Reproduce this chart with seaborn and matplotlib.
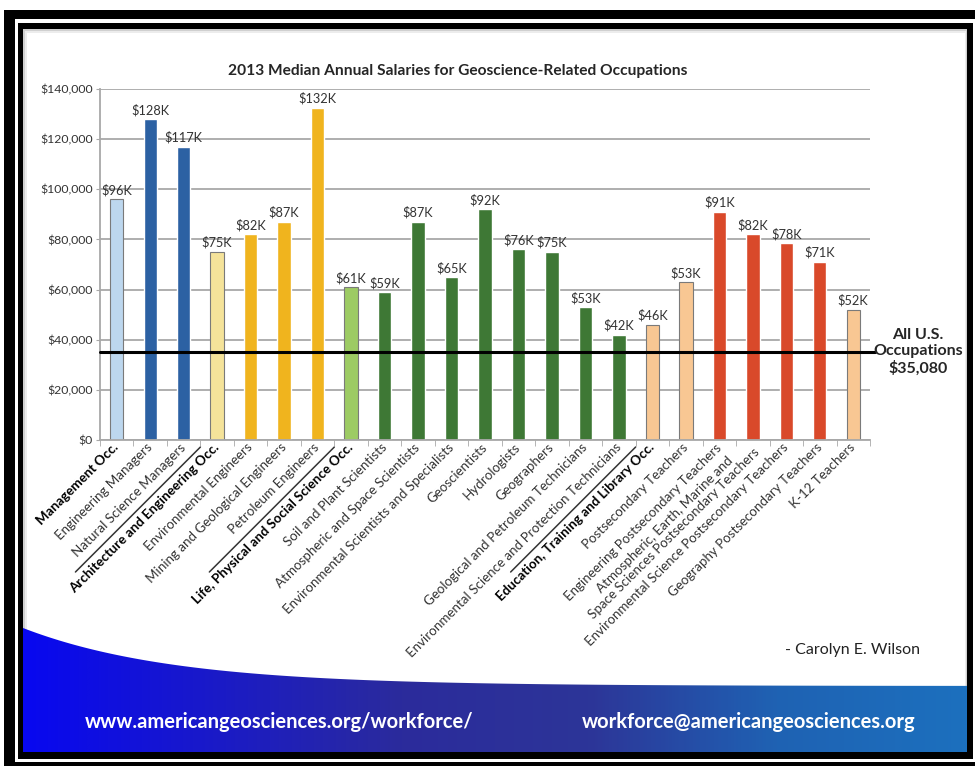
import numpy as np
import pandas as pd
import matplotlib.pyplot as plt
import matplotlib.patches as mpatches
import matplotlib.transforms as mtransforms
from matplotlib.path import Path
from matplotlib.colors import LinearSegmentedColormap
from matplotlib.ticker import MultipleLocator, FuncFormatter
import seaborn as sns

# ---- data (salaries in thousands of dollars) ----
occupations = [
    "Management Occ.",
    "Engineering Managers",
    "Natural Science Managers",
    "Architecture and Engineering Occ.",
    "Environmental Engineers",
    "Mining and Geological Engineers",
    "Petroleum Engineers",
    "Life, Physical and Social Science Occ.",
    "Soil and Plant Scientists",
    "Atmospheric and Space Scientists",
    "Environmental Scientists and Specialists",
    "Geoscientists",
    "Hydrologists",
    "Geographers",
    "Geological and Petroleum Technicians",
    "Environmental Science and Protection Technicians",
    "Education, Training and Library Occ.",
    "Postsecondary Teachers",
    "Engineering Postsecondary Teachers",
    "Atmospheric, Earth, Marine and\nSpace Sciences Postsecondary Teachers",
    "Environmental Science Postsecondary Teachers",
    "Geography Postsecondary Teachers",
    "K-12 Teachers",
]
salary_k = [96, 128, 117, 75, 82, 87, 132.5, 61, 59, 87, 65, 92, 76, 75,
            53, 42, 46, 63, 91, 82, 78.5, 71, 52]
value_labels = ["$96K", "$128K", "$117K", "$75K", "$82K", "$87K", "$132K",
                "$61K", "$59K", "$87K", "$65K", "$92K", "$76K", "$75K",
                "$53K", "$42K", "$46K", "$53K", "$91K", "$82K", "$78K",
                "$71K", "$52K"]
bar_colors = ["#BDD7EE", "#2C61A3", "#2C61A3",
              "#F5E39A", "#F0B41E", "#F0B41E", "#F0B41E",
              "#9DCB64", "#3E7835", "#3E7835", "#3E7835", "#3E7835",
              "#3E7835", "#3E7835", "#3E7835", "#3E7835",
              "#F8C793", "#F8C793", "#D9492A", "#D9492A", "#D9492A",
              "#D9492A", "#F8C793"]
group_headers = [0, 3, 7, 16]
outlined = [0, 3, 7, 16, 17, 22]
all_us_median = 35080
all_us_label = "All U.S.\nOccupations\n$35,080"

df = pd.DataFrame({"occupation": occupations,
                   "salary": np.array(salary_k) * 1000})

sns.set_style("white")
plt.rcParams['font.family'] = ['Lato', 'DejaVu Sans']

W, H = 975, 767
fig = plt.figure(figsize=(W / 100, H / 100), dpi=100)

# ---- background / frame (pixel coordinates, origin top-left) ----
bg = fig.add_axes([0, 0, 1, 1], zorder=0)
bg.set_xlim(0, W)
bg.set_ylim(H, 0)
bg.axis('off')

def rect(x0, y0, x1, y1, color, **kw):
    bg.add_patch(mpatches.Rectangle((x0, y0), x1 - x0, y1 - y0,
                                    facecolor=color, edgecolor='none', **kw))

rect(4, 10, 990, 766, 'black')
rect(15, 19, 980, 762, 'white')
rect(18, 23, 973, 759, 'black')
rect(23, 29, 967, 752, '#d0d0d0')
rect(25, 31, 966, 752, '#ececec')
rect(27, 33, 965, 752, 'white')

# blue swoosh at the bottom
xs = np.linspace(23, 967, 200)
ys = 686 - 58 * np.exp(-(xs - 23) / 150)
verts = list(zip(xs, ys)) + [(967, 752), (23, 752), (xs[0], ys[0])]
codes = [Path.MOVETO] + [Path.LINETO] * (len(verts) - 2) + [Path.CLOSEPOLY]
swoosh = mpatches.PathPatch(Path(verts, codes), facecolor='none', edgecolor='none')
bg.add_patch(swoosh)
blue_cmap = LinearSegmentedColormap.from_list(
    "band", ["#0808F0", "#1A1AC8", "#2B2B9C", "#2D3598", "#1F62B3", "#1C70BE"])
grad = np.tile(np.linspace(0, 1, 300), (60, 1))
img = bg.imshow(grad, cmap=blue_cmap, extent=(23, 967, 752, 620),
                aspect='auto', zorder=2)
img.set_clip_path(swoosh)

bg.text(85, 722, "www.americangeosciences.org/workforce/", color='white',
        fontsize=14.5, fontweight='bold', ha='left', va='center', zorder=3)
bg.text(915, 722, "workforce@americangeosciences.org", color='white',
        fontsize=14.5, fontweight='bold', ha='right', va='center', zorder=3)
bg.text(920, 650, "- Carolyn E. Wilson", color='#222222', fontsize=11.5,
        ha='right', va='center', zorder=3)

# ---- chart ----
ax = fig.add_axes([100 / W, 1 - 440 / H, 770 / W, 351 / H], zorder=1)
ax.patch.set_alpha(0)
sns.barplot(data=df, x="occupation", y="salary", hue="occupation",
            palette=bar_colors, legend=False, width=0.4, saturation=1, ax=ax)

bars = sorted(ax.patches, key=lambda p: p.get_x())
for i, bar in enumerate(bars):
    if i in outlined:
        bar.set_edgecolor('#7a7a7a')
        bar.set_linewidth(0.8)
    ax.text(bar.get_x() + bar.get_width() / 2, bar.get_height() + 1200,
            value_labels[i], ha='center', va='bottom', fontsize=9.2,
            color='#333333', clip_on=False)

ax.set_xlim(-0.5, len(occupations) - 0.5)
ax.set_ylim(0, 140000)
ax.yaxis.set_major_locator(MultipleLocator(20000))
ax.yaxis.set_major_formatter(FuncFormatter(lambda v, _: f"${v:,.0f}"))
ax.grid(axis='y', color='#a8a8a8', linewidth=1.3)
ax.set_axisbelow(True)
for side in ['top', 'right']:
    ax.spines[side].set_visible(False)
for side in ['left', 'bottom']:
    ax.spines[side].set_color('#a8a8a8')
    ax.spines[side].set_linewidth(1.3)
ax.tick_params(axis='y', length=3, color='#a8a8a8', labelsize=8.8,
               labelcolor='#333333', pad=2, left=True)
ax.set_xticks(np.arange(-0.5, len(occupations)), minor=True)
ax.tick_params(axis='x', which='minor', length=4, color='#a8a8a8', bottom=True)
ax.tick_params(axis='x', which='major', length=0, pad=4)
ax.set_xlabel("")
ax.set_ylabel("")
ax.set_xticks(range(len(occupations)))
ax.set_xticklabels(occupations, rotation=45, ha='right', va='center',
                   rotation_mode='anchor', fontsize=9.6, color='#333333',
                   linespacing=1.05)
for i, lbl in enumerate(ax.get_xticklabels()):
    lbl.set_multialignment('center')
    if i in group_headers:
        lbl.set_fontweight('bold')
        lbl.set_color('black')

ax.set_title("2013 Median Annual Salaries for Geoscience-Related Occupations",
             fontsize=11.2, fontweight='bold', pad=10, x=0.465)

# all-occupations reference line
ax.axhline(all_us_median, xmin=0, xmax=1.007, color='black', lw=2.2,
           clip_on=False, zorder=3)
trans = mtransforms.blended_transform_factory(ax.transAxes, ax.transData)
ax.text(1.0625, all_us_median, all_us_label, transform=trans, ha='center',
        va='center', fontsize=11.5, fontweight='bold', linespacing=1.2)

# diagonal separators between occupation groups
for g in group_headers[1:]:
    x0, y0 = ax.transData.transform((g - 0.5, 0))
    px, py = x0, H - y0 + 7
    bg.plot([px, px - 125], [py, py + 125], color='#333333', lw=1.1, zorder=3)

fig.savefig("out.png", dpi=100)
